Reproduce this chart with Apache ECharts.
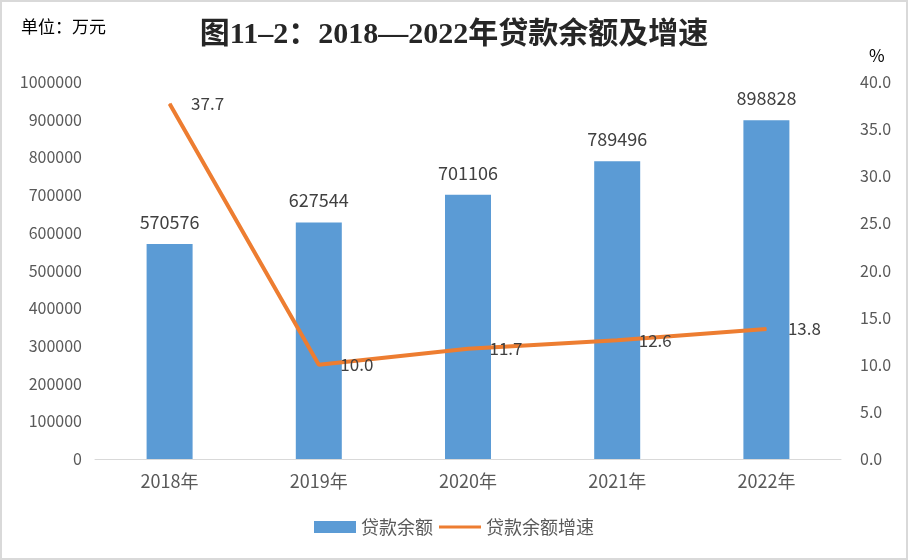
<!DOCTYPE html>
<html><head><meta charset="utf-8">
<script src="https://cdn.jsdelivr.net/npm/echarts@6/dist/echarts.min.js"></script>
<style>html,body{margin:0;padding:0;background:#fff}#c{width:908px;height:560px;box-sizing:border-box;border:2px solid #d9d9d9}</style>
</head><body><div id="c"></div>
<script>
var categories = ['2018年','2019年','2020年','2021年','2022年'];
var loanBalance = [570576, 627544, 701106, 789496, 898828];
var loanGrowth = [37.7, 10.0, 11.7, 12.6, 13.8];
var chart = echarts.init(document.getElementById('c'));
var txt = '#595959';
var ff = 'Noto Sans CJK SC, sans-serif';
chart.setOption({
  animation:false,
  title:[{text:'图11–2：2018—2022年贷款余额及增速',left:'center',top:13,
    textStyle:{fontFamily:'Liberation Serif, Noto Sans CJK SC',fontWeight:'bold',fontSize:30,color:'#262626'}},
    {text:'单位：万元',left:14,top:11,textStyle:{fontFamily:ff,fontWeight:'normal',fontSize:17,color:'#000'}},
    {text:'%',left:862,top:40,textStyle:{fontFamily:ff,fontWeight:'normal',fontSize:17,color:'#000'}}],
  legend:{bottom:17,left:'center',itemWidth:42,itemHeight:12,itemGap:6,
    textStyle:{color:txt,fontSize:18,fontFamily:ff},
    data:[{name:'贷款余额',icon:'rect'},{name:'贷款余额增速',icon:'path://M0,5 L40,5 L40,8 L0,8 Z'}]},
  grid:{left:93,right:65,top:80,bottom:99},
  xAxis:{type:'category',data:categories,
    axisLine:{lineStyle:{color:'#d9d9d9',width:1}},axisTick:{show:false},
    axisLabel:{color:txt,fontSize:18,margin:13,fontFamily:ff}},
  yAxis:[{type:'value',min:0,max:1000000,interval:100000,splitLine:{show:false},
    axisLabel:{color:txt,fontSize:16,margin:13,fontFamily:ff,formatter:function(v){return String(v);}},axisLine:{show:false},axisTick:{show:false}},
    {type:'value',min:0,max:40,interval:5,
    splitLine:{show:false},axisLine:{show:false},axisTick:{show:false},
    axisLabel:{color:txt,fontSize:16,margin:19,fontFamily:ff,formatter:function(v){return v.toFixed(1);}}}],
  series:[{name:'贷款余额',type:'bar',data:loanBalance,barWidth:46,itemStyle:{color:'#5B9BD5'},
    label:{show:true,position:'top',distance:13,color:'#404040',fontSize:18,fontFamily:ff}},
    {name:'贷款余额增速',type:'line',yAxisIndex:1,data:loanGrowth,symbol:'circle',symbolSize:1,showSymbol:true,
    lineStyle:{color:'#ED7D31',width:4},itemStyle:{color:'#ED7D31'},
    label:{show:true,position:'right',distance:21,color:'#404040',fontSize:17,fontFamily:ff,
      formatter:function(p){return p.value.toFixed(1);}}}]
});
</script></body></html>
